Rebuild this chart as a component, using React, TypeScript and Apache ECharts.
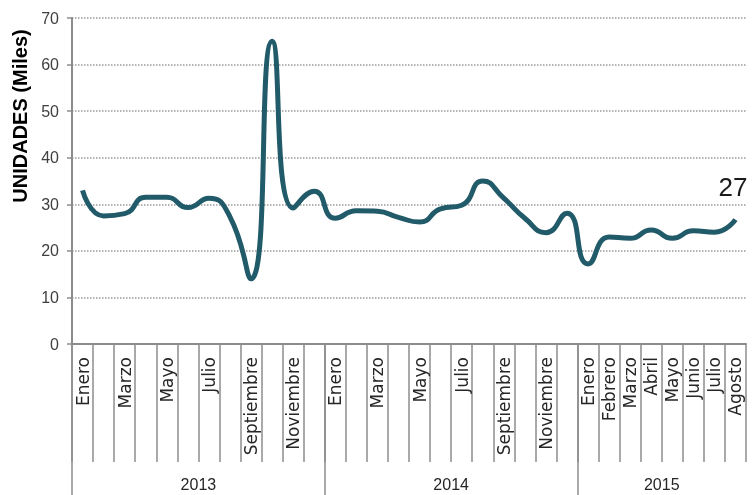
import React, { useEffect, useRef } from "react";
import * as echarts from "echarts";

const monthNames = [
  "Enero", "Febrero", "Marzo", "Abril", "Mayo", "Junio",
  "Julio", "Agosto", "Septiembre", "Octubre", "Noviembre", "Diciembre",
];
const years = ["2013", "2014", "2015"];
const monthsPerYear = [12, 12, 8];

const values2013 = [33, 27.5, 28, 31.5, 31.5, 29.3, 31.3, 27.3, 14, 65, 29.2, 32.8];
const values2014 = [27, 28.6, 28.5, 27.2, 26.2, 29, 29.8, 35, 31.3, 27, 23.9, 28.1];
const values2015 = [17.2, 23, 22.7, 24.5, 22.7, 24.3, 24, 26.7];

const yTicks = { min: 0, max: 70, interval: 10 };

export default function App() {
  const ref = useRef<HTMLDivElement>(null);

  useEffect(() => {
    if (!ref.current) return;
    const chart = echarts.init(ref.current, undefined, { renderer: "svg" });

    const categories: string[] = [];
    monthsPerYear.forEach((n) => {
      for (let i = 0; i < n; i++) categories.push(monthNames[i]);
    });
    const allValues = [...values2013, ...values2014, ...values2015];

    const bounds: number[] = [];
    const centres: number[] = [];
    let acc = 0;
    monthsPerYear.forEach((n) => {
      bounds.push(acc);
      centres.push(acc + n / 2);
      acc += n;
    });

    const grey = "#8c8c8c";

    chart.setOption({
      animation: false,
      grid: { left: 72, right: 6, top: 18, bottom: 151, containLabel: false },
      xAxis: [
        {
          type: "category",
          data: categories,
          boundaryGap: true,
          axisLine: { show: true, lineStyle: { color: grey, width: 2 } },
          axisTick: {
            show: true,
            interval: 0,
            length: 118,
            lineStyle: { color: grey, width: 1.5 },
          },
          axisLabel: {
            rotate: 90,
            margin: 13,
            interval: (index: number) => index >= 24 || index % 2 === 0,
            fontSize: 17,
            fontFamily: "DejaVu Sans",
            color: "#262626",
          },
          splitLine: { show: false },
        },
        {
          type: "value",
          position: "bottom",
          min: 0,
          max: acc,
          axisLine: { show: false },
          splitLine: { show: false },
          axisTick: {
            show: true,
            customValues: bounds,
            length: 151,
            lineStyle: { color: grey, width: 1.5 },
          },
          axisLabel: {
            show: true,
            customValues: centres,
            margin: 132,
            formatter: (v: number) => {
              const idx = centres.indexOf(v);
              return idx >= 0 ? years[idx] : "";
            },
            fontSize: 16,
            fontFamily: "Liberation Sans",
            color: "#262626",
          },
        },
      ],
      yAxis: {
        type: "value",
        min: yTicks.min,
        max: yTicks.max,
        interval: yTicks.interval,
        axisLine: { show: true, lineStyle: { color: grey, width: 2 } },
        axisTick: { show: true, length: 5, lineStyle: { color: grey, width: 1.5 } },
        axisLabel: {
          margin: 13,
          fontSize: 16,
          fontFamily: "Liberation Sans",
          color: "#404040",
        },
        splitLine: {
          show: true,
          lineStyle: { type: "dotted", color: "#9a9a9a", width: 1.5 },
        },
      },
      graphic: [
        {
          type: "text",
          x: 20,
          y: 116,
          rotation: Math.PI / 2,
          style: {
            text: "UNIDADES (Miles)",
            textAlign: "center",
            textVerticalAlign: "middle",
            font: "bold 20px 'Liberation Sans'",
            fill: "#000000",
          },
        },
      ],
      series: [
        {
          type: "line",
          xAxisIndex: 0,
          data: allValues,
          smooth: 0.55,
          showSymbol: false,
          symbol: "none",
          lineStyle: { color: "#215a69", width: 5 },
          itemStyle: { color: "#215a69" },
          endLabel: {
            show: true,
            formatter: (p: any) => String(Math.round(p.value)),
            offset: [-25, -33],
            fontSize: 26,
            fontFamily: "Liberation Sans",
            color: "#1a1a1a",
          },
        },
      ],
    });

    return () => chart.dispose();
  }, []);

  return (
    <div
      ref={ref}
      style={{ position: "fixed", left: 0, top: 0, width: 752, height: 495 }}
    />
  );
}
